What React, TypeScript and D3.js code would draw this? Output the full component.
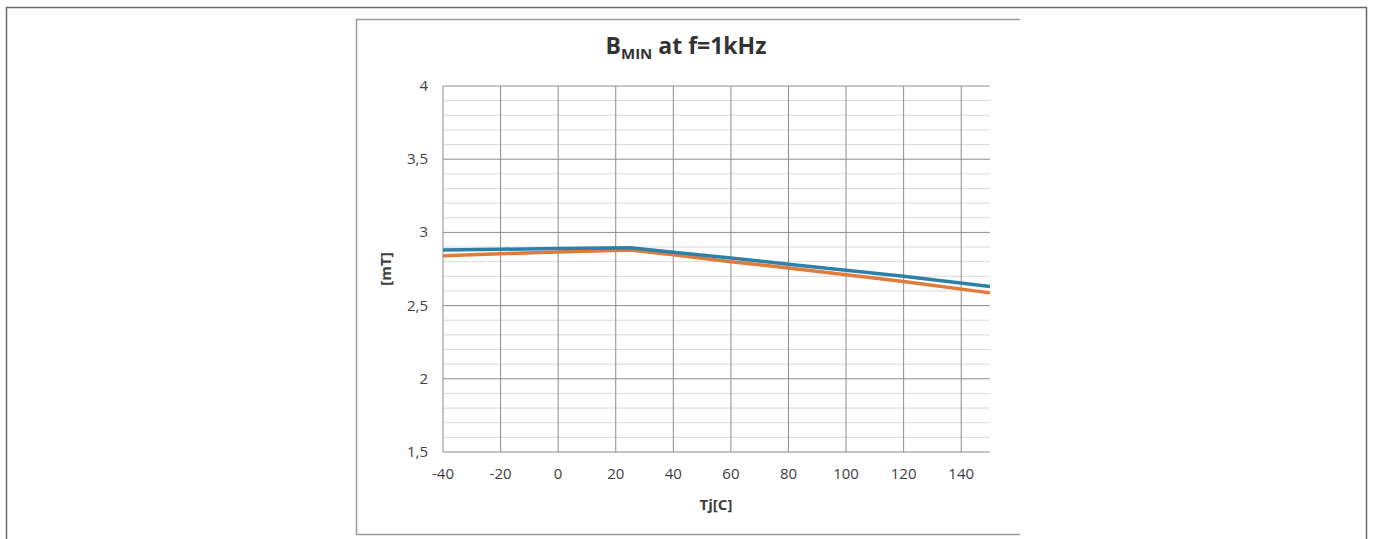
import React from "react";
import * as d3 from "d3";

const temps = [-40, -20, 0, 25, 40, 60, 80, 100, 120, 150];
const seriesBlue = [2.88, 2.885, 2.89, 2.895, 2.865, 2.825, 2.783, 2.742, 2.7, 2.63];
const seriesOrange = [2.84, 2.855, 2.866, 2.88, 2.847, 2.8, 2.757, 2.71, 2.665, 2.587];
const xTicks = [-40, -20, 0, 20, 40, 60, 80, 100, 120, 140];
const yMajor = [1.5, 2, 2.5, 3, 3.5, 4];

export default function App() {
  const W = 1373, H = 539;
  const x = d3.scaleLinear().domain([-40, 150]).range([443, 990]);
  const y = d3.scaleLinear().domain([1.5, 4]).range([452, 86]);
  const yMinor = d3.range(15, 41).map((v) => v / 10).filter((v) => Math.abs(v * 2 - Math.round(v * 2)) > 1e-6);
  const line = d3.line<number>().x((_, i) => x(temps[i])).y((d) => y(d));
  const font = "'Open Sans', 'Liberation Sans', sans-serif";
  return (
    <svg width={W} height={H} style={{ position: "absolute", left: 0, top: 0 }}>
      <rect x={0} y={0} width={W} height={H} fill="#fff" />
      <path d={`M6.5,${H + 5} V7.5 H1366.5 V${H + 5}`} fill="none" stroke="#6b6b6b" strokeWidth={1.5} />
      <path d={`M1020,19.5 H356.5 V534.5 H1020`} fill="none" stroke="#9a9a9a" strokeWidth={1.5} />
      {yMinor.map((v) => (
        <line key={"m" + v} x1={x(-40)} x2={x(150)} y1={y(v)} y2={y(v)} stroke="#dadada" strokeWidth={1} />
      ))}
      {yMajor.map((v) => (
        <line key={"M" + v} x1={x(-40)} x2={x(150)} y1={y(v)} y2={y(v)} stroke="#8c8c8c" strokeWidth={1} />
      ))}
      {xTicks.map((v) => (
        <line key={"x" + v} x1={x(v)} x2={x(v)} y1={y(4)} y2={y(1.5)} stroke="#8c8c8c" strokeWidth={1} />
      ))}
      <path d={line(seriesOrange) || ""} fill="none" stroke="#e07b39" strokeWidth={3.5} strokeLinejoin="round" />
      <path d={line(seriesBlue) || ""} fill="none" stroke="#2f80a8" strokeWidth={3.5} strokeLinejoin="round" />
      {yMajor.map((v) => (
        <text key={"yl" + v} x={428} y={y(v) + 5} textAnchor="end" fontFamily={font} fontSize={15} fill="#404040">
          {String(v).replace(".", ",")}
        </text>
      ))}
      {xTicks.map((v) => (
        <text key={"xl" + v} x={x(v)} y={479} textAnchor="middle" fontFamily={font} fontSize={15} fill="#404040">
          {v}
        </text>
      ))}
      <text x={716} y={510} textAnchor="middle" fontFamily={font} fontSize={15} fontWeight="bold" fill="#404040">
        Tj[C]
      </text>
      <text transform={`translate(391,${y(2.75)}) rotate(-90)`} textAnchor="middle" fontFamily={font} fontSize={15} fontWeight="bold" fill="#404040">
        [mT]
      </text>
      <text x={686} y={54} textAnchor="middle" fontFamily={font} fontSize={23} fontWeight="bold" fill="#333">
        B<tspan fontSize={15} dy={5}>MIN</tspan><tspan dy={-5}> at f=1kHz</tspan>
      </text>
    </svg>
  );
}
